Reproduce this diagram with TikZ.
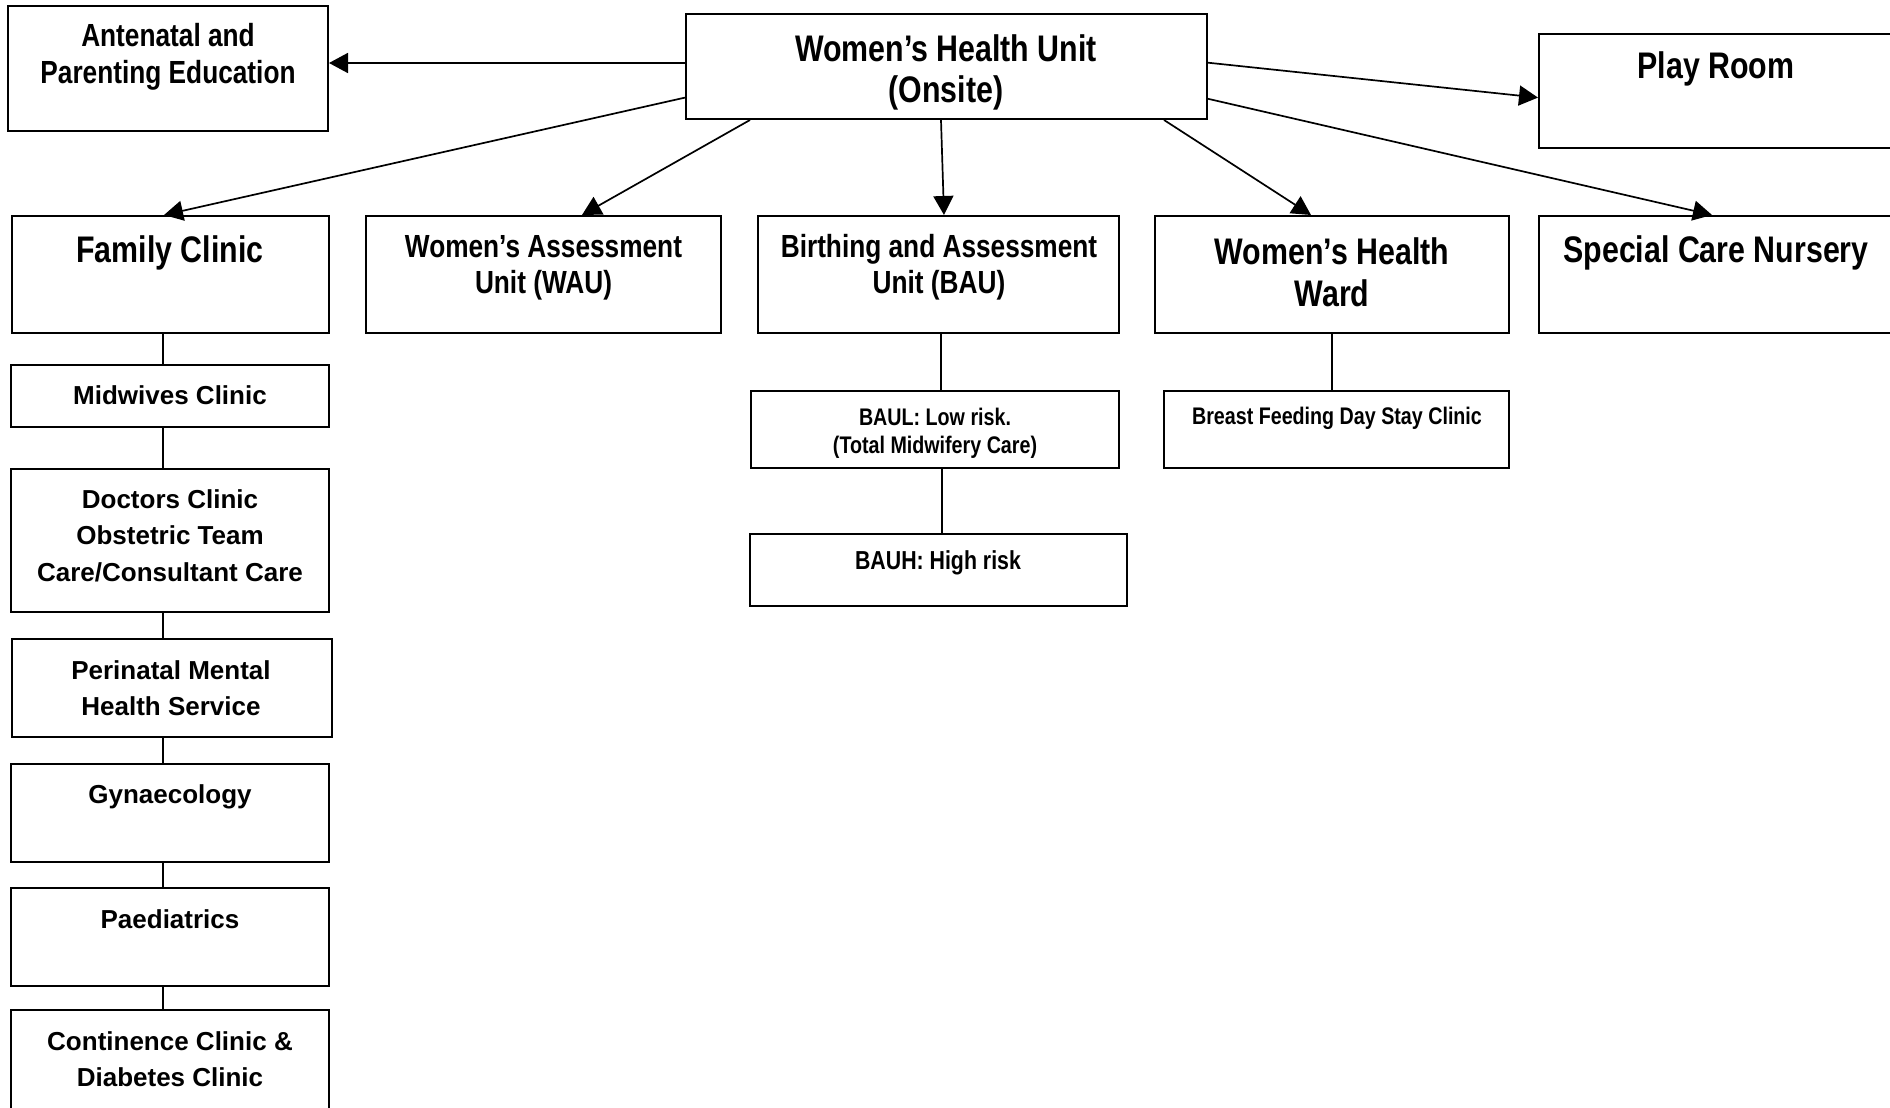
\documentclass[tikz,border=0pt]{standalone}
\usepackage{fontspec}
\setmainfont{Liberation Sans}
\newfontfamily\nar[FakeStretch=0.82]{Liberation Sans}
\usetikzlibrary{arrows.meta,fit}
\begin{document}
\begin{tikzpicture}[x=1pt,y=-1pt,
  box/.style={draw, line width=2pt, inner sep=0pt},
  conn/.style={line width=1.7pt},
  arr/.style={conn, -{Triangle[length=19pt,width=20pt]}},
  txt/.style={align=center, inner sep=0pt},
  nbig/.style={txt, font=\nar\bfseries\fontsize{37}{42}\selectfont},
  nmid/.style={txt, font=\nar\bfseries\fontsize{32}{37}\selectfont},
  nsub/.style={txt, font=\nar\bfseries\fontsize{26}{30}\selectfont},
  nsmall/.style={txt, font=\nar\bfseries\fontsize{24}{28}\selectfont},
  wide/.style={txt, font=\bfseries\fontsize{26}{36.5}\selectfont},
]
\useasboundingbox (0,0) rectangle (1890,1108);
\fill[white] (0,0) rectangle (1890,1108);

% boxes
\node[box, fit={(8,6) (328,131)}] (ante) {};
\node[box, fit={(686,14.5) (1207,119)}] (whu) {};
\node[box, fit={(1539,34) (1897,148)}] (play) {};
\node[box, fit={(12,216) (329,333)}] (fam) {};
\node[box, fit={(366,216) (721,333)}] (wau) {};
\node[box, fit={(758,216) (1119,333)}] (bau) {};
\node[box, fit={(1155,216) (1509,333)}] (whw) {};
\node[box, fit={(1539,216) (1897,333)}] (scn) {};
\node[box, fit={(11,365) (329,427)}] (mid) {};
\node[box, fit={(11,469) (329,612)}] (doc) {};
\node[box, fit={(12,639) (332,736.5)}] (peri) {};
\node[box, fit={(11,764) (329,862)}] (gyn) {};
\node[box, fit={(11,888) (329,986)}] (paed) {};
\node[box, fit={(11,1010) (329,1125)}] (cont) {};
\node[box, fit={(751,390.5) (1119,467.7)}] (baul) {};
\node[box, fit={(750,534) (1127,606)}] (bauh) {};
\node[box, fit={(1164,390.5) (1509,467.7)}] (bfd) {};

% texts
\node[nmid] (anteT) at (168,57) {Antenatal and\\Parenting Education};
\node[nbig, font=\nar\bfseries\fontsize{37}{41}\selectfont] (whuT) at (946,72.4) {Women’s Health Unit\\(Onsite)};
\node[nbig] (playT) at (1716,68.6) {Play Room};
\node[nbig] (famT) at (170,253.2) {Family Clinic};
\node[nmid, font=\nar\bfseries\fontsize{32}{36}\selectfont] (wauT) at (543.5,267.5) {Women’s Assessment\\Unit (WAU)};
\node[nmid, font=\nar\bfseries\fontsize{32}{36}\selectfont] (bauT) at (939,267.5) {Birthing and Assessment\\Unit (BAU)};
\node[nbig] (whwT) at (1332,272.6) {Women’s Health\\Ward};
\node[nbig] (scnT) at (1716,253.2) {Special Care Nursery};
\node[wide] (midT) at (170,395.5) {Midwives Clinic};
\node[wide] (docT) at (170,535.5) {Doctors Clinic\\Obstetric Team\\Care/Consultant Care};
\node[wide] (periT) at (171,688) {Perinatal Mental\\Health Service};
\node[wide] (gynT) at (170,797) {Gynaecology};
\node[wide] (paedT) at (170,919.5) {Paediatrics};
\node[wide] (contT) at (170,1059) {Continence Clinic \&\\Diabetes Clinic};
\node[nsmall] (baulT) at (935,433.3) {BAUL: Low risk.\\(Total Midwifery Care)};
\node[nsub] (bauhT) at (938,562.6) {BAUH: High risk};
\node[nsmall] (bfdT) at (1337,418.5) {Breast Feeding Day Stay Clinic};

% arrows from Women's Health Unit
\draw[arr] (whu.west |- 0,63) -- (ante.east |- 0,63);
\draw[arr] (whu.west |- 0,97.6) -- (fam.north -| 164,0);
\draw[arr] (whu.south -| 750,0) -- (wau.north -| 582,0);
\draw[arr] (whu.south -| 941,0) -- (bau.north -| 944,0);
\draw[arr] (whu.south -| 1164,0) -- (whw.north -| 1311,0);
\draw[arr] (whu.east |- 0,62.7) -- (play.west |- 0,97.6);
\draw[arr] (whu.east |- 0,98.8) -- (scn.north -| 1712,0);

% plain connectors
\draw[conn] (fam.south -| 163,0) -- (mid.north -| 163,0);
\draw[conn] (mid.south -| 163,0) -- (doc.north -| 163,0);
\draw[conn] (doc.south -| 163,0) -- (peri.north -| 163,0);
\draw[conn] (peri.south -| 163,0) -- (gyn.north -| 163,0);
\draw[conn] (gyn.south -| 163,0) -- (paed.north -| 163,0);
\draw[conn] (paed.south -| 163,0) -- (cont.north -| 163,0);
\draw[conn] (bau.south -| 941,0) -- (baul.north -| 941,0);
\draw[conn] (baul.south -| 942,0) -- (bauh.north -| 942,0);
\draw[conn] (whw.south -| 1332,0) -- (bfd.north -| 1332,0);
\end{tikzpicture}
\end{document}
